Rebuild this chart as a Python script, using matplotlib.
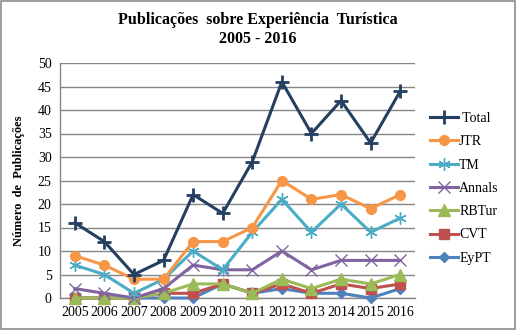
import matplotlib
matplotlib.use("Agg")
import matplotlib.pyplot as plt
from matplotlib.patches import Rectangle

years = ["2005", "2006", "2007", "2008", "2009", "2010", "2011", "2012", "2013", "2014", "2015", "2016"]
total = [16, 12, 5, 8, 22, 18, 29, 46, 35, 42, 33, 44]
jtr = [9, 7, 4, 4, 12, 12, 15, 25, 21, 22, 19, 22]
tm = [7, 5, 1, 4, 10, 6, 14, 21, 14, 20, 14, 17]
annals = [2, 1, 0, 2, 7, 6, 6, 10, 6, 8, 8, 8]
rbtur = [0, 0, 0, 1, 3, 3, 1, 4, 2, 4, 3, 5]
cvt = [0, 0, 0, 1, 1, 3, 1, 3, 1, 3, 2, 3]
eypt = [0, 0, 0, 0, 0, 3, 1, 2, 1, 1, 0, 2]

plt.rcParams['font.family'] = ['Liberation Serif', 'DejaVu Serif']

fig = plt.figure(figsize=(5.16, 3.30), dpi=100)
fig.patches.append(Rectangle((0.002, 0.003), 0.996, 0.994, transform=fig.transFigure,
                             fill=False, edgecolor='#8c8c8c', linewidth=1.2))

ax = fig.add_axes([60/516, 32/330, 355/516, 235/330])
x = list(range(len(years)))

series = [
    (" Total", total, '#243F60', '+', 10, 2.0),
    ("JTR", jtr, '#F79646', 'o', 7, 0),
    ("TM", tm, '#4BACC6', (6, 2, 0), 9, 1.0),
    ("Annals", annals, '#8064A2', 'x', 8, 1.0),
    ("RBTur", rbtur, '#9BBB59', '^', 8, 0),
    ("CVT", cvt, '#C0504D', 's', 7, 0),
    ("EyPT", eypt, '#4F81BD', 'D', 5.5, 0),
]
handles = []
for i, (name, vals, col, mk, ms, mew) in enumerate(series):
    kw = dict(color=col, linewidth=2.2, marker=mk, markersize=ms,
              markerfacecolor=col, markeredgecolor=col, label=name)
    if mew:
        kw['markeredgewidth'] = mew
    h, = ax.plot(x, vals, zorder=10 - i, clip_on=False, **kw)
    handles.append(h)

ax.set_xlim(-0.5, len(years) - 0.5)
ax.set_ylim(0, 50)
ax.set_yticks(range(0, 51, 5))
ax.set_xticks(x)
ax.set_xticklabels(years)
ax.grid(axis='y', color='#868686', linewidth=1.0)
ax.set_axisbelow(True)
for s in ['top', 'right']:
    ax.spines[s].set_visible(False)
for s in ['left', 'bottom']:
    ax.spines[s].set_color('#868686')
    ax.spines[s].set_linewidth(1.0)
ax.tick_params(length=0, labelsize=10, pad=6)
ax.set_ylabel("Número  de  Publicações", fontsize=9, fontweight='bold', labelpad=9)

fig.text(0.5, 1 - 20/330, "Publicações  sobre Experiência  Turística", ha='center', va='center',
         fontsize=11.5, fontweight='bold')
fig.text(0.5, 1 - 39/330, "2005 - 2016", ha='center', va='center',
         fontsize=11.5, fontweight='bold')

fig.legend(handles=handles, loc='upper left', bbox_to_anchor=(430/516, 1 - 112/330),
           frameon=False, fontsize=10, handlelength=2.0, handletextpad=0.1,
           labelspacing=0.74, borderaxespad=0, borderpad=0)

fig.savefig("out.png", dpi=100)
